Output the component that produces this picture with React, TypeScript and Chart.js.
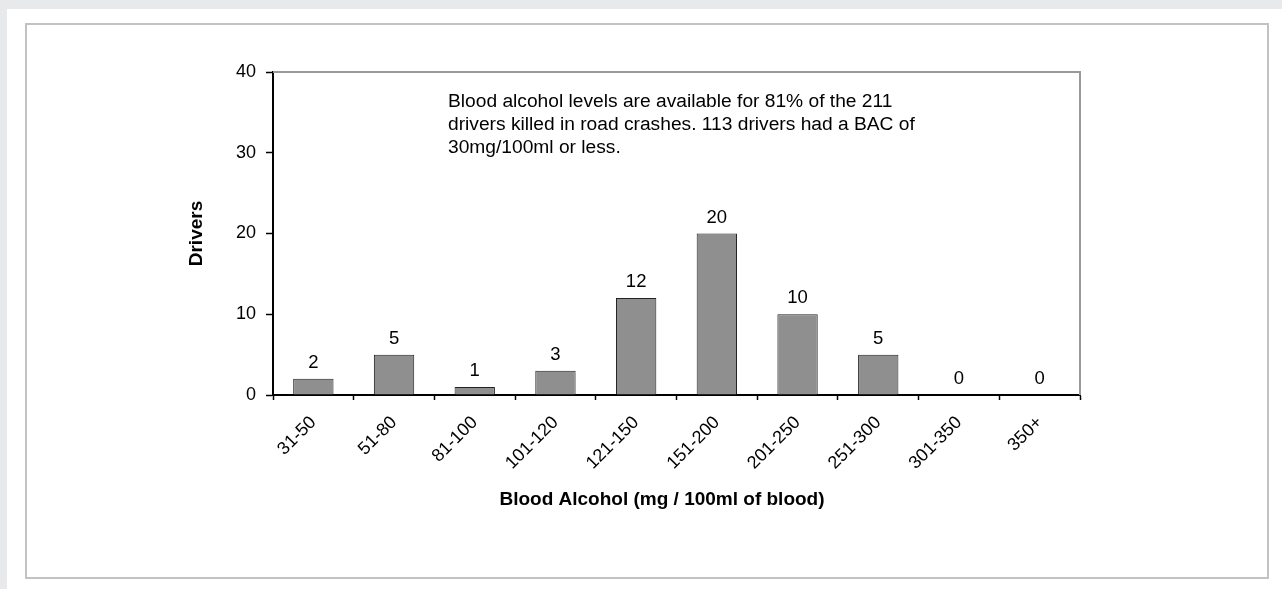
import React, { useEffect, useRef } from "react";
import { Chart, registerables } from "chart.js";

Chart.register(...registerables);

const categories = ["31-50", "51-80", "81-100", "101-120", "121-150", "151-200", "201-250", "251-300", "301-350", "350+"];
const drivers = [2, 5, 1, 3, 12, 20, 10, 5, 0, 0];
const yTicks = [0, 10, 20, 30, 40];
const xTitle = "Blood Alcohol (mg / 100ml of blood)";
const yTitle = "Drivers";
const noteLines = [
  "Blood alcohol levels are available for 81% of the 211",
  "drivers killed in road crashes. 113 drivers had a BAC of",
  "30mg/100ml or less.",
];

const FONT = "'Liberation Sans', Arial, sans-serif";

const extrasPlugin = {
  id: "extras",
  afterDatasetsDraw(chart: any) {
    const { ctx, chartArea } = chart;
    ctx.save();
    // top & right frame of plot area
    ctx.strokeStyle = "#999999";
    ctx.lineWidth = 2;
    ctx.beginPath();
    ctx.moveTo(chartArea.left, chartArea.top);
    ctx.lineTo(chartArea.right, chartArea.top);
    ctx.lineTo(chartArea.right, chartArea.bottom);
    ctx.stroke();

    // value labels
    const meta = chart.getDatasetMeta(0);
    ctx.fillStyle = "#000";
    ctx.font = `18.5px ${FONT}`;
    ctx.textAlign = "center";
    ctx.textBaseline = "middle";
    meta.data.forEach((bar: any, i: number) => {
      ctx.fillText(String(drivers[i]), bar.x, bar.y - 16);
    });

    // note
    ctx.font = `19.2px ${FONT}`;
    ctx.textAlign = "left";
    noteLines.forEach((line, i) => {
      ctx.fillText(line, 448, 102 + i * 23);
    });

    // axis titles
    ctx.font = `bold 19px ${FONT}`;
    ctx.textAlign = "center";
    ctx.fillText(xTitle, 662, 500);
    ctx.translate(197, (chartArea.top + chartArea.bottom) / 2);
    ctx.rotate(-Math.PI / 2);
    ctx.fillText(yTitle, 0, 0);
    ctx.restore();
  },
};

export default function App() {
  const ref = useRef<HTMLCanvasElement>(null);
  useEffect(() => {
    if (!ref.current) return;
    const chart = new Chart(ref.current, {
      type: "bar",
      data: {
        labels: categories,
        datasets: [
          {
            data: drivers,
            backgroundColor: "#8f8f8f",
            borderColor: "#222",
            borderWidth: 1,
            categoryPercentage: 1,
            barPercentage: 0.5,
          },
        ],
      },
      options: {
        animation: false,
        responsive: false,
        layout: { padding: { left: 0, right: 202, top: 72, bottom: 0 } },
        plugins: { legend: { display: false }, tooltip: { enabled: false } },
        scales: {
          x: {
            offset: true,
            grid: { offset: true, drawOnChartArea: false, drawTicks: true, tickLength: 5, tickColor: "#000", tickWidth: 1.5 },
            border: { display: true, color: "#000", width: 2 },
            ticks: {
              color: "#000",
              font: { family: FONT, size: 18 },
              minRotation: 45,
              maxRotation: 45,
              padding: 12,
              autoSkip: false,
            },
            afterFit: (s: any) => {
              s.height = 194;
            },
          },
          y: {
            min: 0,
            max: 40,
            afterBuildTicks: (s: any) => {
              s.ticks = yTicks.map((v) => ({ value: v }));
            },
            grid: { drawOnChartArea: false, drawTicks: true, tickLength: 7, tickColor: "#000", tickWidth: 1.5 },
            border: { display: true, color: "#000", width: 2 },
            ticks: { color: "#000", font: { family: FONT, size: 18 }, padding: 10 },
            afterFit: (s: any) => {
              s.width = 273;
            },
          },
        },
      },
      plugins: [extrasPlugin],
    });
    return () => chart.destroy();
  }, []);

  return (
    <div style={{ position: "fixed", left: 0, top: 0, width: 1282, height: 589, background: "#e8e9eb", overflow: "hidden" }}>
      <div style={{ position: "absolute", left: 7, top: 9, right: 0, bottom: 0, background: "#fff" }} />
      <div
        style={{
          position: "absolute",
          left: 25,
          top: 23,
          width: 1244,
          height: 556,
          border: "2px solid #c2c2c2",
          boxSizing: "border-box",
        }}
      />
      <canvas ref={ref} width={1282} height={589} style={{ position: "absolute", left: 0, top: 0, width: 1282, height: 589 }} />
    </div>
  );
}
